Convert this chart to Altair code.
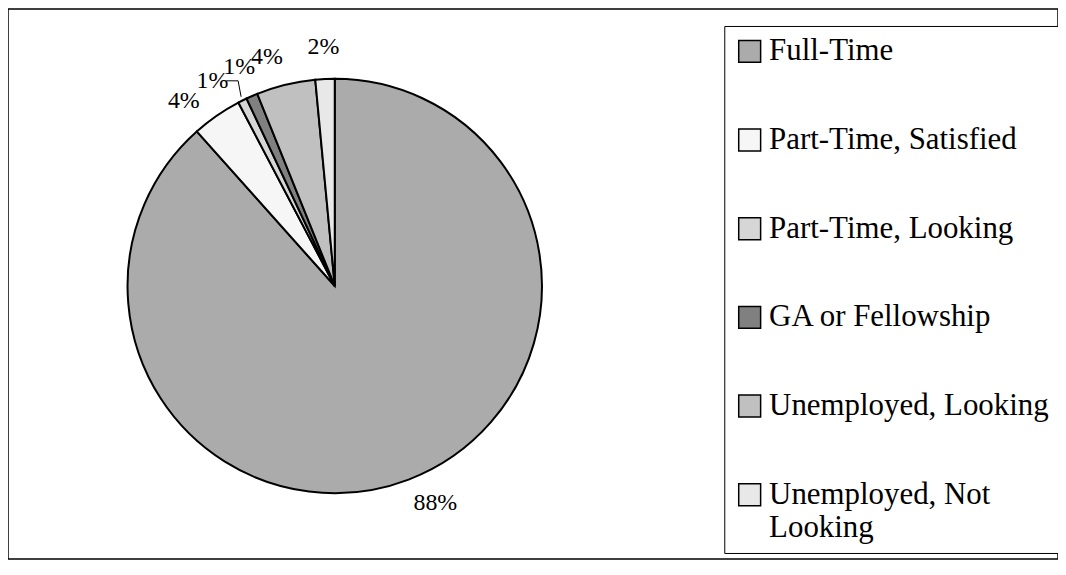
import altair as alt
import pandas as pd
import math

categories = ["Full-Time", "Part-Time, Satisfied", "Part-Time, Looking",
              "GA or Fellowship", "Unemployed, Looking", "Unemployed, Not Looking"]
shares = [88.4, 3.9, 0.7, 0.9, 4.6, 1.5]
labels = ["88%", "4%", "1%", "1%", "4%", "2%"]
fills = ["#ababab", "#f6f6f6", "#d6d6d6", "#808080", "#c0c0c0", "#e8e8e8"]

df = pd.DataFrame({"category": categories, "share": shares,
                   "label": labels, "order": list(range(len(categories)))})

W, H = 1054, 552
CX, CY = 328, 278
R = 208
LR = 240
FONT = "Liberation Serif"

theta_scale = alt.Scale(domain=[0, 360], range=[0, 2 * math.pi])

base = alt.Chart(df).transform_window(
    cum="sum(share)", sort=[alt.SortField("order")], frame=[None, 0]
).transform_joinaggregate(total="sum(share)").transform_calculate(
    start="(datum.cum - datum.share) / datum.total * 360",
    end="datum.cum / datum.total * 360",
    mid="(datum.cum - datum.share / 2) / datum.total * 360",
)

legend = alt.Legend(
    title=None, orient="none", legendX=719, legendY=17,
    symbolType="square", symbolSize=484, symbolStrokeColor="black",
    symbolStrokeWidth=1.5, labelFont=FONT, labelFontSize=31,
    labelColor="black", labelLimit=500, rowPadding=57, padding=10,
    strokeColor="black", fillColor="white", labelOffset=4,
    labelExpr="datum.label == 'Unemployed, Not Looking' ? ['Unemployed, Not', 'Looking'] : datum.label",
)

arcs = base.mark_arc(outerRadius=R, stroke="black", strokeWidth=2).encode(
    theta=alt.Theta("start:Q", scale=theta_scale, stack=None),
    theta2="end:Q",
    color=alt.Color("category:N", scale=alt.Scale(domain=categories, range=fills),
                    legend=legend, sort=categories),
    x=alt.value(CX), y=alt.value(CY),
)

label_base = base.transform_calculate(
    lab_angle="datum.mid + (datum.category === 'Full-Time' ? -4 : "
              "datum.category === 'Part-Time, Satisfied' ? -4.4 : "
              "datum.category === 'Part-Time, Looking' ? -4.3 : "
              "datum.category === 'Unemployed, Looking' ? -2.8 : 0)"
)

texts = label_base.mark_text(radius=LR, font=FONT, fontSize=24, color="black",
                             align="center", baseline="middle").encode(
    theta=alt.Theta("lab_angle:Q", scale=theta_scale, stack=None),
    text="label:N",
    x=alt.value(CX), y=alt.value(CY),
)

leader_base = label_base.transform_filter(
    "datum.category === 'GA or Fellowship'"
).transform_calculate(
    lx=f"{CX} + {LR} * sin(datum.lab_angle * PI / 180)",
    ly=f"{CY} - {LR} * cos(datum.lab_angle * PI / 180)",
).transform_calculate(
    ax="datum.lx - 13", bx="datum.lx - 1", cx="datum.lx + 2",
    ay="datum.ly + 14", cy="datum.ly + 30",
)

lead1 = leader_base.mark_rule(color="black", strokeWidth=1).encode(
    x=alt.X("ax:Q", scale=None), x2="bx:Q",
    y=alt.Y("ay:Q", scale=None), y2="ay:Q",
)
lead2 = leader_base.mark_rule(color="black", strokeWidth=1).encode(
    x=alt.X("bx:Q", scale=None), x2="cx:Q",
    y=alt.Y("ay:Q", scale=None), y2="cy:Q",
)

chart = alt.layer(arcs, texts, lead1, lead2).properties(
    width=W, height=H, padding=0, autosize="none", background="white"
).configure_view(stroke="black", strokeWidth=1.5)

chart.save("out.html", embed_options={"renderer": "svg", "actions": False})
